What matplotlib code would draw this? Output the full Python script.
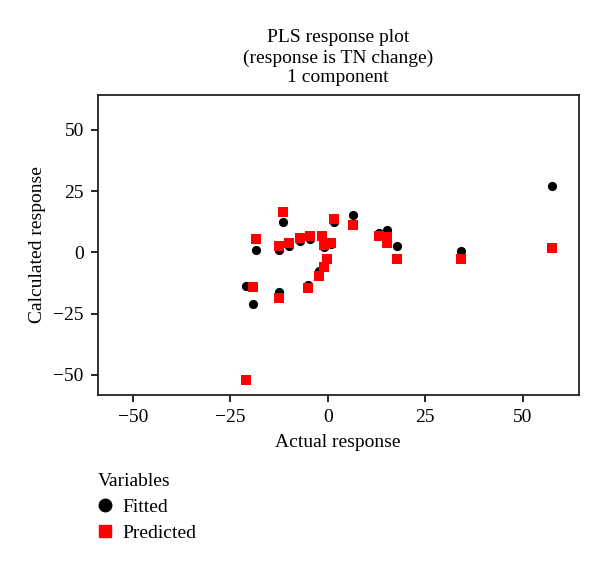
import matplotlib
matplotlib.use("Agg")
import matplotlib.pyplot as plt
from matplotlib.lines import Line2D

plt.rcParams['font.family'] = ['Liberation Serif', 'DejaVu Serif']

# Actual response values
actual = [-21.0, -19.2, -18.3, -12.5, -12.5, -11.4, -10.0, -7.0, -5.1, -4.5,
          -2.2, -1.4, -1.0, -0.9, -0.2, 0.8, 1.7, 6.6, 13.1, 15.2, 15.2,
          17.7, 34.3, 57.6]
# Fitted (calculated) response
fitted = [-13.6, -21.1, 1.1, 0.8, -16.3, 12.2, 2.6, 4.6, -13.5, 5.6,
          -7.5, 5.8, -5.4, 2.0, -2.2, 3.4, 12.4, 15.2, 7.7, 9.1, 4.8,
          2.6, 0.5, 26.9]
# Predicted response
predicted = [-52.0, -14.2, 5.4, 2.6, -18.5, 16.6, 3.9, 5.8, -14.6, 6.6,
             -9.7, 6.6, -6.1, 2.8, -2.9, 3.9, 13.7, 11.3, 6.8, 6.4, 3.7,
             -2.9, -2.9, 1.9]

xticks = [-50, -25, 0, 25, 50]
yticks = [-50, -25, 0, 25, 50]

fig = plt.figure(figsize=(6.0, 5.64), dpi=100)
ax = fig.add_axes([97.7/600, 1-395/564, (578.7-97.7)/600, (395-95)/564])

ax.scatter(actual, fitted, s=44, c='black', marker='o', zorder=3, linewidths=0)
ax.scatter(actual, predicted, s=44, c='#ff0000', marker='s', zorder=4, linewidths=0)

ax.set_xlim(-59, 64.4)
ax.set_ylim(-58.2, 64.2)
ax.set_xticks(xticks)
ax.set_yticks(yticks)
ax.set_xticklabels(["\u221250", "\u221225", "0", "25", "50"])
ax.set_yticklabels(["\u221250", "\u221225", "0", "25", "50"])
ax.tick_params(direction='out', length=5, width=1.2, labelsize=14, pad=5)
for sp in ax.spines.values():
    sp.set_linewidth(1.3)
    sp.set_color('#222222')

ax.set_xlabel("Actual response", fontsize=14, labelpad=6)
ax.set_ylabel("Calculated response", fontsize=14, labelpad=5)

fig.text(338/600, 1-38/564, "PLS response plot", ha='center', va='center', fontsize=14)
fig.text(338/600, 1-58/564, "(response is TN change)", ha='center', va='center', fontsize=14)
fig.text(338/600, 1-77/564, "1 component", ha='center', va='center', fontsize=14)

handles = [Line2D([], [], marker='o', color='black', linestyle='none', markersize=9),
           Line2D([], [], marker='s', color='#ff0000', linestyle='none', markersize=9)]
leg = fig.legend(handles, ["Fitted", "Predicted"], title="Variables",
                 loc='upper left', bbox_to_anchor=(80/600, 1-455/564),
                 frameon=False, fontsize=14, title_fontsize=14,
                 handlelength=0.8, handletextpad=0.5, labelspacing=0.45,
                 alignment='left')

fig.savefig("out.png", dpi=100)
